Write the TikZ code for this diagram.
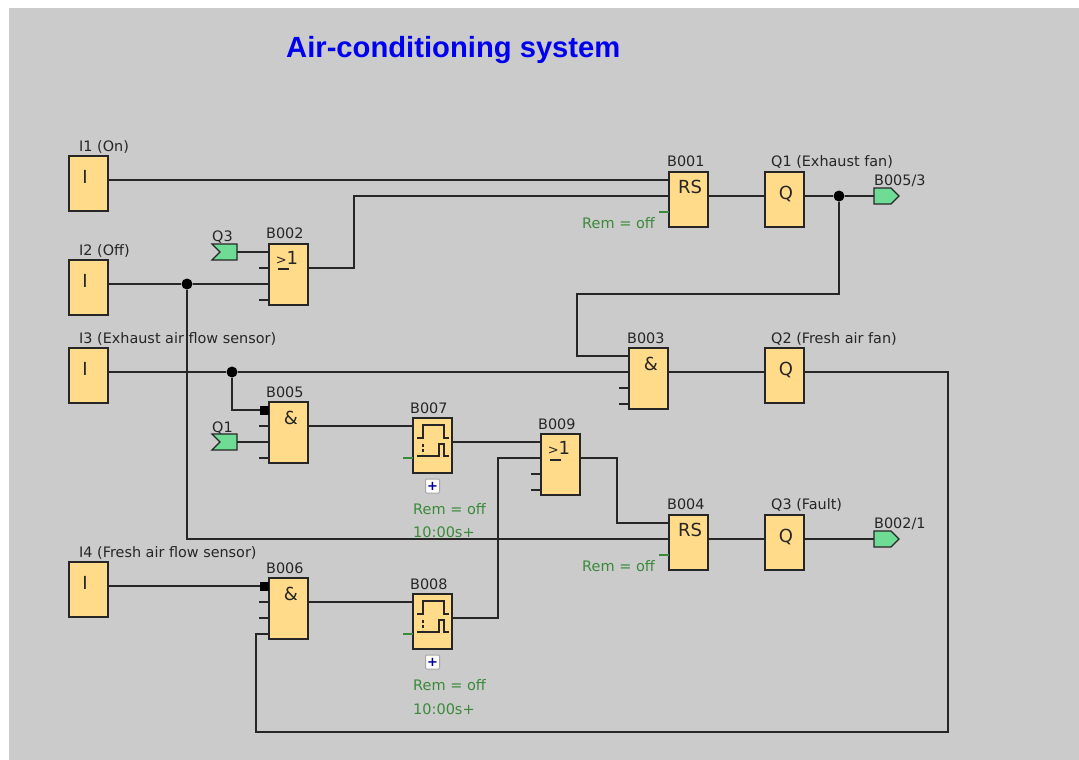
\documentclass[tikz,border=0pt]{standalone}
\usepackage{fontspec}
\setmainfont{DejaVu Sans}
\newfontfamily\titlefont{Liberation Sans}
\usetikzlibrary{shapes.symbols, arrows.meta, positioning}
\definecolor{panelgrey}{HTML}{CBCBCB}
\definecolor{blockfill}{HTML}{FFDB8A}
\definecolor{tagfill}{HTML}{6FDC96}
\definecolor{remgreen}{HTML}{3A8A3A}
\definecolor{titleblue}{HTML}{0000F0}
\definecolor{wirecol}{HTML}{262626}
\tikzset{
    block/.style={rectangle, draw=wirecol, line width=1.3pt, fill=blockfill, anchor=north west, minimum width=39pt, minimum height=55pt, inner sep=0pt, outer sep=0pt},
    tallblock/.style={block, minimum height=61pt},
    wire/.style={draw=wirecol, line width=1.3pt},
    stub/.style={draw=wirecol, line width=1.2pt},
    remstub/.style={draw=remgreen, line width=1.2pt},
    dot/.style={circle, fill=black, minimum size=11pt, inner sep=0pt},
    invpin/.style={rectangle, fill=black, minimum size=9pt, inner sep=0pt},
    lbl/.style={anchor=base west, inner sep=0pt, font=\fontsize{14.4}{16}\selectfont, text=black!85},
    rem/.style={anchor=base west, inner sep=0pt, font=\fontsize{14.5}{16}\selectfont, text=remgreen},
    sym/.style={anchor=base, inner sep=0pt, font=\fontsize{18}{20}\selectfont, text=black!85},
    outtag/.style={signal, signal to=east, signal from=nowhere, draw=wirecol, line width=1.2pt, fill=tagfill, minimum width=25pt, minimum height=16pt, inner sep=0pt, outer sep=0pt},
    intag/.style={signal, signal to=nowhere, signal from=west, draw=wirecol, line width=1.2pt, fill=tagfill, minimum width=25pt, minimum height=16pt, inner sep=0pt, outer sep=0pt},
    plusbox/.style={rectangle, rounded corners=1pt, draw=black!35, fill=white, line width=1pt, minimum size=14pt, inner sep=0pt, text=blue!60!black, font=\fontsize{13}{13}\selectfont\bfseries},
    pulse/.pic={
        \draw[stub] (4,20) -- (10,20) -- (10,7) -- (31,7) -- (31,20) -- (36,20);
        \draw[stub] (4,38) -- (26,38) -- (26,26) -- (31,26) -- (31,38) -- (36,38);
        \draw[stub, densely dashed] (10,26) -- (10,36);
    },
}
% pin positions of a block, counted from its top edge
\newcommand{\pins}[1]{%
    \path (#1.north west) ++(0,8) coordinate (#1a) ++(0,16) coordinate (#1b) ++(0,16) coordinate (#1c) ++(0,16) coordinate (#1d);
    \path (#1.north east) ++(0,24) coordinate (#1o);
}

\begin{document}
\begin{tikzpicture}[x=1pt, y=-1pt]
\useasboundingbox (0,0) rectangle (1079,760);
\fill[panelgrey] (9,8) rectangle (1079,760);

\node[anchor=base west, inner sep=0pt, text=titleblue, font=\titlefont\fontsize{29.2}{31}\selectfont\bfseries] (title) at (286,58) {Air-conditioning system};

% ── Inputs ──
\node[block] (i1) at (69,156) {}; \pins{i1}
\node[block] (i2) at (69,260) {}; \pins{i2}
\node[block] (i3) at (69,348) {}; \pins{i3}
\node[block] (i4) at (69,562) {}; \pins{i4}
\node[sym] (i1sym) at (85,183) {I};
\node[sym] (i2sym) at (85,287) {I};
\node[sym] (i3sym) at (85,375) {I};
\node[sym] (i4sym) at (85,589) {I};
\node[lbl] (i1lab) at (79,151) {I1 (On)};
\node[lbl] (i2lab) at (79,255) {I2 (Off)};
\node[lbl] (i3lab) at (79,343) {I3 (Exhaust air flow sensor)};
\node[lbl] (i4lab) at (79,557) {I4 (Fresh air flow sensor)};

% ── Function blocks ──
\node[block] (b001) at (669,172) {}; \pins{b001}
\node[tallblock] (b002) at (269,244) {}; \pins{b002}
\node[tallblock] (b003) at (629,348) {}; \pins{b003}
\node[block] (b004) at (669,515) {}; \pins{b004}
\node[tallblock] (b005) at (269,402) {}; \pins{b005}
\node[tallblock] (b006) at (269,578) {}; \pins{b006}
\node[block] (b007) at (413,418) {}; \pins{b007}
\node[block] (b008) at (413,594) {}; \pins{b008}
\node[tallblock] (b009) at (541,434) {}; \pins{b009}

\node[lbl] (b001lab) at (667,166) {B001};
\node[lbl] (b002lab) at (266,238) {B002};
\node[lbl] (b003lab) at (627,343) {B003};
\node[lbl] (b004lab) at (667,509) {B004};
\node[lbl] (b005lab) at (266,397) {B005};
\node[lbl] (b006lab) at (266,573) {B006};
\node[lbl] (b007lab) at (410,413) {B007};
\node[lbl] (b008lab) at (410,589) {B008};
\node[lbl] (b009lab) at (538,429) {B009};

\node[sym] (b001sym) at (690,193) {RS};
\node[sym] (b004sym) at (690,536) {RS};
\node[sym] (b003sym) at (651,370) {\&};
\node[sym] (b005sym) at (291,424) {\&};
\node[sym] (b006sym) at (291,600) {\&};
\node[sym] (b002sym) at (287,264) {{\fontsize{13}{13}\selectfont >}1};
\node[sym] (b009sym) at (559,454) {{\fontsize{13}{13}\selectfont >}1};
\draw[stub] (278,269) -- (289,269);
\draw[stub] (550,460) -- (561,460);

\pic at (b007.north west) {pulse};
\pic at (b008.north west) {pulse};

% ── Outputs ──
\node[block] (q1) at (765,172) {}; \pins{q1}
\node[block] (q2) at (765,348) {}; \pins{q2}
\node[block] (q3) at (765,515) {}; \pins{q3}
\node[sym] (q1sym) at (786,199) {Q};
\node[sym] (q2sym) at (786,375) {Q};
\node[sym] (q3sym) at (786,542) {Q};
\node[lbl] (q1lab) at (771,166) {Q1 (Exhaust fan)};
\node[lbl] (q2lab) at (771,343) {Q2 (Fresh air fan)};
\node[lbl] (q3lab) at (771,509) {Q3 (Fault)};

% ── Connectors ──
\node[outtag] (tagb5) at (882.5,196) {};
\node[outtag] (tagb2) at (882.5,539) {};
\node[intag] (tagq3) at (228.5,252) {};
\node[intag] (tagq1) at (228.5,442) {};
\node[lbl] (tagb5lab) at (874,185) {B005/3};
\node[lbl] (tagb2lab) at (874,528) {B002/1};
\node[lbl] (tagq3lab) at (212,241) {Q3};
\node[lbl] (tagq1lab) at (212,432) {Q1};

% ── Rem and timer texts ──
\node[rem] (rem1) at (582,228) {Rem = off};
\node[rem] (rem4) at (582,571) {Rem = off};
\node[rem] (rem7) at (413,514) {Rem = off};
\node[rem] (time7) at (413,537) {10:00s+};
\node[rem] (rem8) at (413,690) {Rem = off};
\node[rem] (time8) at (413,714) {10:00s+};
\node[plusbox] (plus7) at (432.5,486) {+};
\node[plusbox] (plus8) at (432.5,662) {+};

% ── Junctions ──
\node[dot] (dot2) at (187,284) {};
\node[dot] (dotq1) at (839,196) {};
\node[dot] (dot3) at (232,372) {};
\node[invpin] (inv5) at (264.5,410) {};
\node[invpin] (inv6) at (264.5,586) {};

% ── Wires ──
\draw[wire] (i1o) -- (b001a);
\draw[wire] (b001o) -- (q1b);
\draw[wire] (q1o) -- (dotq1) -- (tagb5.west);
\draw[wire] (b002o) -- ++(46,0) |- (b001b);
\draw[wire] (tagq3.east) -- (b002a);
\draw[wire] (i2o) -- (dot2) -- (b002c);
\draw[wire] (dot2) |- (b004b);
\draw[wire] (dotq1) |- (577,294) |- (b003a);
\draw[wire] (i3o) -- (dot3) -- (b003b);
\draw[wire] (b003o) -- (q2b);
\draw[wire] (dot3) |- (inv5);
\draw[wire] (tagq1.east) -- (b005c);
\draw[wire] (b005o) -- (b007a);
\draw[wire] (b007o) -- (b009a);
\draw[wire] (b009o) -- ++(37,0) |- (b004a);
\draw[wire] (b004o) -- (q3b);
\draw[wire] (q3o) -- (tagb2.west);
\draw[wire] (i4o) -- (inv6);
\draw[wire] (b006o) -- (b008a);
\draw[wire] (b008o) -- ++(46,0) |- (b009b);
\draw[wire] (q2o) -| (948,732) -| (256,635) |- (b006d);

% ── Free pins ──
\draw[stub] (b002b) -- ++(-10,0);
\draw[stub] (b002d) -- ++(-10,0);
\draw[stub] (b003c) -- ++(-10,0);
\draw[stub] (b003d) -- ++(-10,0);
\draw[stub] (b005b) -- ++(-10,0);
\draw[stub] (b005d) -- ++(-10,0);
\draw[stub] (b006b) -- ++(-10,0);
\draw[stub] (b006c) -- ++(-10,0);
\draw[stub] (b009c) -- ++(-10,0);
\draw[stub] (b009d) -- ++(-10,0);
\draw[remstub] (b001c) -- ++(-10,0);
\draw[remstub] (b004c) -- ++(-10,0);
\draw[remstub] (b007c) -- ++(-10,0);
\draw[remstub] (b008c) -- ++(-10,0);

\end{tikzpicture}
\end{document}
